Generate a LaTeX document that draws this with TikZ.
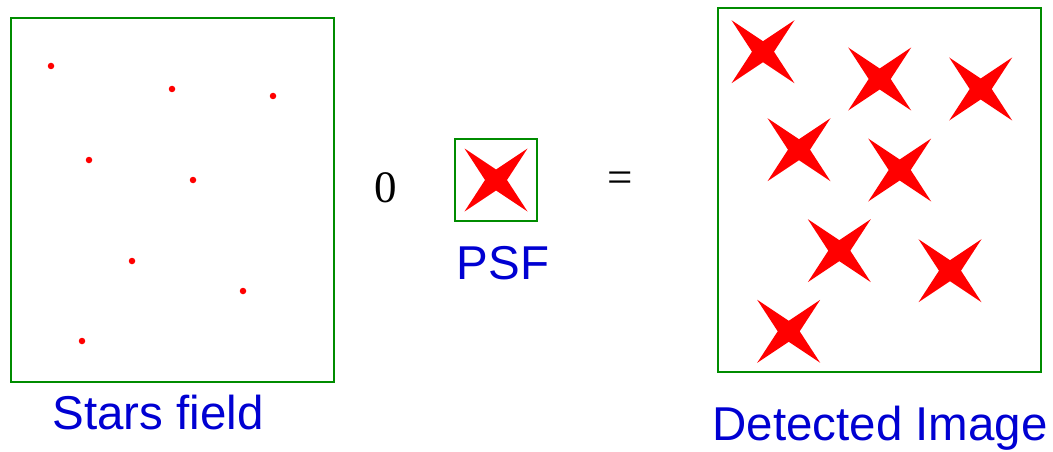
\documentclass[tikz,border=0pt]{standalone}
\usepackage{fontspec}
\setmainfont{Liberation Serif}
\newfontfamily\labelfont{Liberation Sans}
\definecolor{frame}{RGB}{0,140,0}
\definecolor{starred}{RGB}{255,0,0}
\definecolor{caption}{RGB}{0,0,210}
\tikzset{
  panel/.style={draw=frame, line width=2pt, inner sep=0pt},
  dot/.style={circle, fill=starred, inner sep=0pt, minimum size=6.5pt},
  caption/.style={text=caption, font=\labelfont\fontsize{47.5}{56}\selectfont, anchor=base, inner sep=0pt},
  operator/.style={font=\fontsize{45}{54}\selectfont, inner sep=0pt},
  crossstar/.pic={
    \fill[starred] (-31.5,-31.5) -- (0,-10.5) -- (31.5,-31.5) -- (11,0)
      -- (31.5,31.5) -- (0,10.5) -- (-31.5,31.5) -- (-11,0) -- cycle;
  }
}
\begin{document}
\begin{tikzpicture}[x=1pt, y=-1pt]
\useasboundingbox (0,0) rectangle (1053,452);

% point sources
\node[panel, minimum width=323pt, minimum height=364pt] (field) at (172.5,200) {};
\foreach \px/\py [count=\i] in {51/66, 172/89, 273/96, 89/160, 193/180, 132/261, 243/291, 82/341}
  \node[dot] (s\i) at (\px,\py) {};
\node[caption] (fieldlabel) at (158,429.3) {Stars field};

% convolution operator
\node[operator, anchor=base] (conv) at (386,202) {0};

% point spread function
\node[panel, minimum width=82pt, minimum height=82pt] (psf) at (496,180) {};
\pic at (496,180) {crossstar};
\node[caption] (psflabel) at (503,279.3) {PSF};

\node[operator] (eq) at (620,182) {=};

% resulting image
\node[panel, minimum width=323pt, minimum height=364pt] (image) at (879.5,190) {};
\foreach \px/\py in {763/51.7, 879.7/79, 980.7/89, 799/149.7, 899.7/170, 839.3/250.7, 950/270.7, 788.7/331.3}
  \pic at (\px,\py) {crossstar};
\node[caption] (imagelabel) at (880,440.7) {Detected Image};
\end{tikzpicture}
\end{document}
